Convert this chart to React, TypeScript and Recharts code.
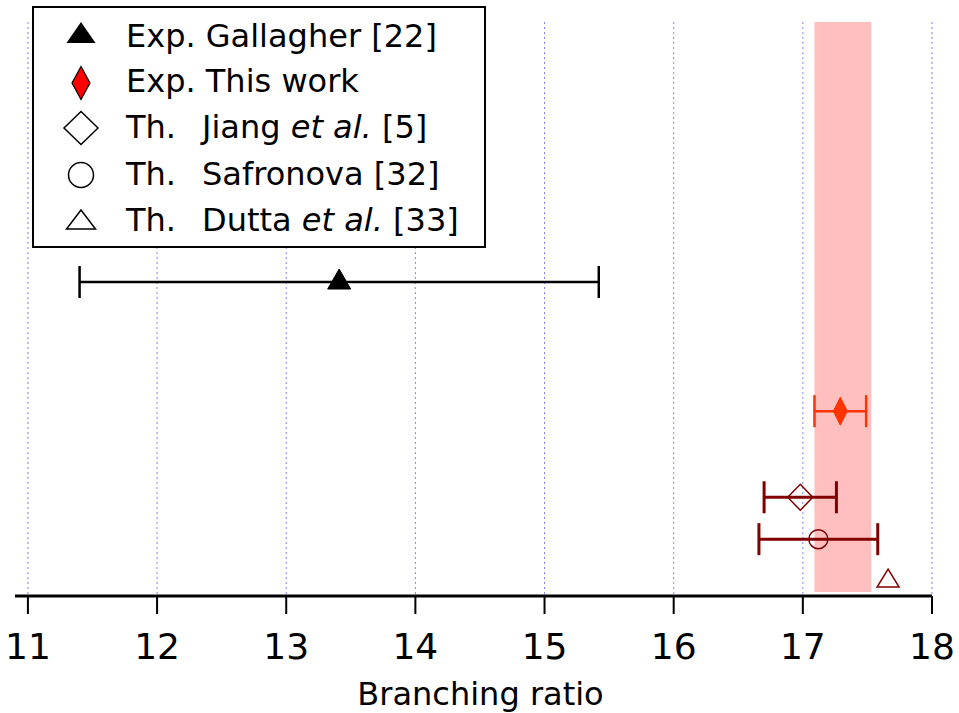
import { ScatterChart, Scatter, XAxis, YAxis, CartesianGrid, ErrorBar, ReferenceArea } from 'recharts';

const FONT = '"DejaVu Sans", Verdana, sans-serif';

const xDomain = [10.9, 18];
const xTicks = [11, 12, 13, 14, 15, 16, 17, 18];
const bandRange = [17.09, 17.53];

// x = branching ratio, y = row position (arbitrary), err = +/- uncertainty
const gallagher = [{ x: 13.41, y: 5.47, err: 2.01 }];
const thisWork = [{ x: 17.29, y: 3.22, err: 0.2 }];
const jiang = [{ x: 16.98, y: 1.72, err: 0.28 }];
const safronova = [{ x: 17.12, y: 0.99, err: 0.46 }];
const dutta = [{ x: 17.66, y: 0.26 }];

const legendRows = [
  { lead: 'Exp. Gallagher [22]', name: '', etal: false, ref: '' },
  { lead: 'Exp. This work', name: '', etal: false, ref: '' },
  { lead: 'Th.', name: 'Jiang ', etal: true, ref: ' [5]' },
  { lead: 'Th.', name: 'Safronova [32]', etal: false, ref: '' },
  { lead: 'Th.', name: 'Dutta ', etal: true, ref: ' [33]' },
];

const DARK = '#800000';
const RED = '#ff3300';

const triangle = (w: number, up: number, down: number, fill: string, stroke: string, sw: number) =>
  (props: any) => {
    const { cx, cy } = props;
    return (
      <polygon
        points={`${cx},${cy - up} ${cx + w / 2},${cy + down} ${cx - w / 2},${cy + down}`}
        fill={fill}
        stroke={stroke}
        strokeWidth={sw}
      />
    );
  };

const diamond = (w: number, h: number, fill: string, stroke: string, sw: number) =>
  (props: any) => {
    const { cx, cy } = props;
    return (
      <polygon
        points={`${cx},${cy - h / 2} ${cx + w / 2},${cy} ${cx},${cy + h / 2} ${cx - w / 2},${cy}`}
        fill={fill}
        stroke={stroke}
        strokeWidth={sw}
      />
    );
  };

const circle = (r: number, stroke: string, sw: number) => (props: any) => {
  const { cx, cy } = props;
  return <circle cx={cx} cy={cy} r={r} fill="none" stroke={stroke} strokeWidth={sw} />;
};

// grid lines only at the tick values
const gridX = ({ offset }: any) =>
  xTicks.map((t) => offset.left + ((t - xDomain[0]) / (xDomain[1] - xDomain[0])) * offset.width);

const axisTitle = (props: any) => {
  const vb = props.viewBox || {};
  return (
    <text
      x={vb.x + vb.width / 2 + 7}
      y={vb.y + vb.height - 8}
      textAnchor="middle"
      fontSize={32}
      fill="#000"
      fontFamily={FONT}
    >
      Branching ratio
    </text>
  );
};

function LegendBox() {
  const mx = 81;
  const rowY = [47, 92, 138, 185, 231];
  const markY = [33, 83, 128, 175, 220];
  const markers = [
    <polygon key="m0" points={`${mx},${markY[0] - 11} ${mx + 14.5},${markY[0] + 10} ${mx - 14.5},${markY[0] + 10}`} fill="#000" />,
    <polygon key="m1" points={`${mx},${markY[1] - 16.5} ${mx + 9},${markY[1]} ${mx},${markY[1] + 16.5} ${mx - 9},${markY[1]}`} fill="#ff0000" stroke="#000" strokeWidth={1.2} />,
    <polygon key="m2" points={`${mx},${markY[2] - 16.5} ${mx + 17},${markY[2]} ${mx},${markY[2] + 16.5} ${mx - 17},${markY[2]}`} fill="none" stroke="#000" strokeWidth={1.5} />,
    <circle key="m3" cx={mx} cy={markY[3]} r={12.5} fill="none" stroke="#000" strokeWidth={1.5} />,
    <polygon key="m4" points={`${mx},${markY[4] - 10} ${mx + 14.5},${markY[4] + 9} ${mx - 14.5},${markY[4] + 9}`} fill="none" stroke="#000" strokeWidth={1.5} />,
  ];
  return (
    <svg
      width={959}
      height={260}
      style={{ position: 'absolute', left: 0, top: 0, pointerEvents: 'none' }}
    >
      <rect x={33} y={7} width={452} height={240} fill="#fff" stroke="#000" strokeWidth={2} />
      {markers}
      {legendRows.map((r, i) => (
        <g key={i} fontFamily={FONT} fontSize={32} fill="#000">
          <text x={126} y={rowY[i]}>{r.lead}</text>
          {r.name && (
            <text x={202} y={rowY[i]}>
              {r.name}
              {r.etal && <tspan fontStyle="italic">et al.</tspan>}
              {r.ref}
            </text>
          )}
        </g>
      ))}
    </svg>
  );
}

export default function App() {
  return (
    <div style={{ position: 'absolute', left: 0, top: 0, width: 959, height: 713, background: '#fff', fontFamily: FONT }}>
      <ScatterChart width={959} height={713} margin={{ top: 22, right: 27, bottom: 0, left: 15 }}>
        <CartesianGrid
          horizontal={false}
          stroke="#8080ff"
          strokeDasharray="2 3"
          strokeWidth={1}
          verticalCoordinatesGenerator={gridX}
        />
        <XAxis
          type="number"
          dataKey="x"
          domain={xDomain}
          ticks={xTicks}
          allowDataOverflow
          height={117}
          axisLine={{ stroke: '#000', strokeWidth: 3 }}
          tickLine={{ stroke: '#000', strokeWidth: 2 }}
          tickSize={18}
          tickMargin={19}
          tick={{ fontSize: 36, fill: '#000', fontFamily: FONT }}
          label={{ content: axisTitle }}
        />
        <YAxis type="number" dataKey="y" domain={[0, 10]} hide />
        <ReferenceArea x1={bandRange[0]} x2={bandRange[1]} y1={0.07} y2={10} fill="#ffbfbf" fillOpacity={1} stroke="none" />
        <Scatter data={gallagher} isAnimationActive={false} shape={triangle(23, 13, 7, '#000', '#000', 1)}>
          <ErrorBar dataKey="err" direction="x" width={16} stroke="#000" strokeWidth={2.5} />
        </Scatter>
        <Scatter data={thisWork} isAnimationActive={false} shape={diamond(14, 28, RED, RED, 1)}>
          <ErrorBar dataKey="err" direction="x" width={16} stroke={RED} strokeWidth={2.5} />
        </Scatter>
        <Scatter data={jiang} isAnimationActive={false} shape={diamond(25, 26, 'none', DARK, 1.5)}>
          <ErrorBar dataKey="err" direction="x" width={16} stroke={DARK} strokeWidth={3} />
        </Scatter>
        <Scatter data={safronova} isAnimationActive={false} shape={circle(9.5, DARK, 1.5)}>
          <ErrorBar dataKey="err" direction="x" width={16} stroke={DARK} strokeWidth={3} />
        </Scatter>
        <Scatter data={dutta} isAnimationActive={false} shape={triangle(22, 12, 6, 'none', DARK, 1.5)} />
      </ScatterChart>
      <LegendBox />
    </div>
  );
}
